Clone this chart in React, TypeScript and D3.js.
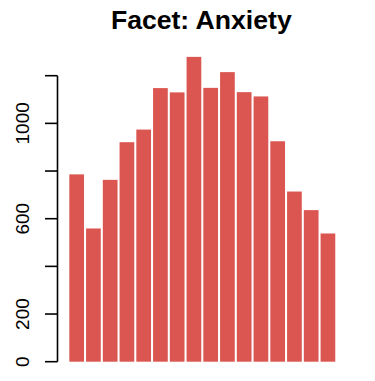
import React from "react";
import * as d3 from "d3";

const categories = ["1","2","3","4","5","6","7","8","9","10","11","12","13","14","15","16"];
const counts = [786, 559, 763, 921, 974, 1148, 1130, 1279, 1149, 1215, 1131, 1113, 925, 714, 636, 538];
const tickValues = [0, 200, 400, 600, 800, 1000, 1200];
const tickLabels = ["0", "200", "", "600", "", "1000", ""];
const title = "Facet: Anxiety";

export default function App() {
  const W = 375, H = 381;
  const y = d3.scaleLinear().domain([0, 1200]).range([361.7, 75.7]);
  const x = d3.scaleBand<string>().domain(categories).range([68.3, 336.3]).paddingInner(0.122).paddingOuter(0.061);
  const axisX = 57.5;
  const font = "'Liberation Sans', Arial, Helvetica, sans-serif";
  return (
    <svg width={W} height={H} style={{ position: "absolute", left: 0, top: 0, background: "#fff" }}>
      <text x={201.3} y={29.3} textAnchor="middle" fontFamily={font} fontWeight="bold" fontSize={26.6} fill="#000">{title}</text>
      {categories.map((c, i) => (
        <rect key={c} x={x(c)} y={y(counts[i])} width={x.bandwidth()} height={y(0) - y(counts[i])} fill="#DB5651" />
      ))}
      <line x1={axisX} x2={axisX} y1={y(0)} y2={y(1200)} stroke="#000" strokeWidth={1.6} />
      {tickValues.map((t, i) => (
        <g key={t}>
          <line x1={45} x2={axisX} y1={y(t)} y2={y(t)} stroke="#000" strokeWidth={1.6} />
          {tickLabels[i] && (
            <text transform={`translate(28.5,${y(t)}) rotate(-90)`} textAnchor="middle" fontFamily={font} fontSize={19} fill="#000">{tickLabels[i]}</text>
          )}
        </g>
      ))}
    </svg>
  );
}
